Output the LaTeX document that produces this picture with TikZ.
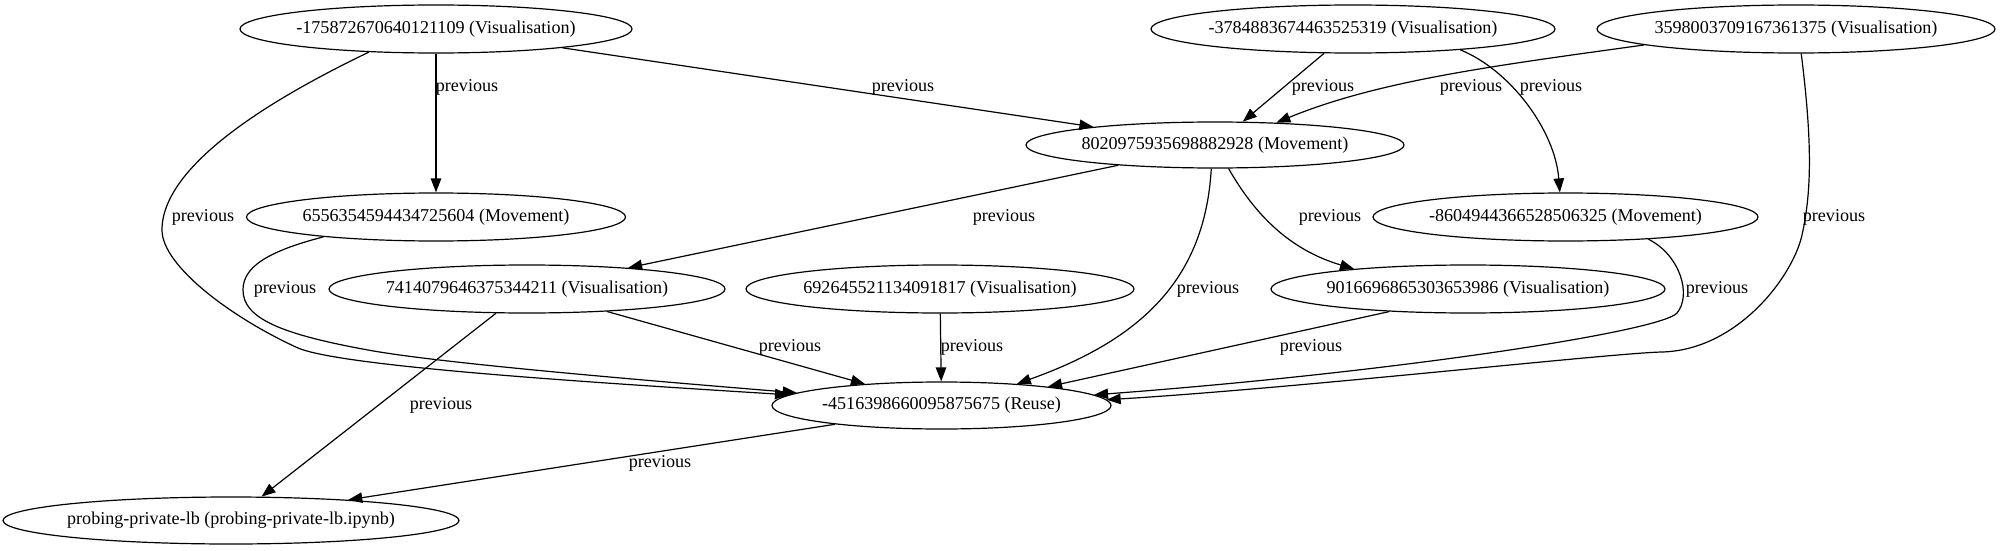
\documentclass[tikz,border=0pt]{standalone}
\usepackage{fontspec}
\setmainfont{Liberation Serif}
\usetikzlibrary{shapes.geometric, arrows.meta}
\begin{document}
\begin{tikzpicture}[x=1pt,y=-1pt,
  gnode/.style={draw, ellipse, line width=1.2pt, minimum height=48pt, inner sep=0pt, font=\fontsize{18.1}{20}\selectfont},
  lab/.style={font=\fontsize{18.1}{20}\selectfont, inner sep=0pt},
  edge/.style={line width=1.2pt, -{Triangle[length=14pt,width=10.5pt]}}
]
\useasboundingbox (0,0) rectangle (2000,551);
% nodes
\node[gnode, minimum width=392pt] (A) at (436,29) {\makebox[0pt]{-175872670640121109 (Visualisation)}};
\node[gnode, minimum width=404pt] (B) at (1353,29) {\makebox[0pt]{-3784883674463525319 (Visualisation)}};
\node[gnode, minimum width=398pt] (C) at (1796,29) {\makebox[0pt]{3598003709167361375 (Visualisation)}};
\node[gnode, minimum width=378pt, minimum height=46pt] (D) at (1215,145) {\makebox[0pt]{8020975935698882928 (Movement)}};
\node[gnode, minimum width=379pt] (E) at (436,217) {\makebox[0pt]{6556354594434725604 (Movement)}};
\node[gnode, minimum width=385pt] (F) at (1565.5,217) {\makebox[0pt]{-8604944366528506325 (Movement)}};
\node[gnode, minimum width=396pt] (G) at (527,289) {\makebox[0pt]{7414079646375344211 (Visualisation)}};
\node[gnode, minimum width=388pt] (H) at (940,289) {\makebox[0pt]{692645521134091817 (Visualisation)}};
\node[gnode, minimum width=394pt] (I) at (1468,289) {\makebox[0pt]{9016696865303653986 (Visualisation)}};
\node[gnode, minimum width=339pt, minimum height=47pt] (J) at (941.5,405.5) {\makebox[0pt]{-4516398660095875675 (Reuse)}};
\node[gnode, minimum width=456pt, minimum height=47pt] (K) at (231,520.5) {\makebox[0pt]{probing-private-lb (probing-private-lb.ipynb)}};
% edges
\draw[edge] (A) -- (E);
\draw[edge] (A) -- (D);
\draw[edge] (A.199) .. controls (290,90) and (162,160) .. (162,230) .. controls (162,266) and (232,318) .. (298,348) .. controls (343,367) and (600,383) .. (J.176);
\draw[edge] (B) -- (D);
\draw[edge] (C.186) .. controls (1500,65) and (1380,80) .. (D.20);
\draw[edge] (B.-11) .. controls (1510,70) and (1555,130) .. (F.103);
\draw[edge] (C.-78) .. controls (1812,140) and (1812,190) .. (1802,235) .. controls (1793,276) and (1738,350) .. (1662,352) .. controls (1612,353) and (1300,388) .. (J.2);
\draw[edge] (D) -- (G);
\draw[edge] (D.261) .. controls (1205,280) and (1140,340) .. (J.16);
\draw[edge] (D.300) .. controls (1255,215) and (1290,250) .. (I.170);
\draw[edge] (E.190) .. controls (265,252) and (243,268) .. (243,290) .. controls (243,318) and (280,334) .. (368,350) .. controls (438,363) and (640,380) .. (J.175);
\draw[edge] (F.-15) .. controls (1680,255) and (1692,295) .. (1677,313) .. controls (1662,331) and (1400,372) .. (J.4);
\draw[edge] (G) -- (J);
\draw[edge] (H) -- (J);
\draw[edge] (I.196) -- (J.10);
\draw[edge] (G) -- (K);
\draw[edge] (J.190) -- (K.10);
% labels
\node[lab] (l1) at (467,87) {previous};
\node[lab] (l2) at (903,87) {previous};
\node[lab] (l3) at (203,217) {previous};
\node[lab] (l4) at (1323,87) {previous};
\node[lab] (l5) at (1471,87) {previous};
\node[lab] (l6) at (1551,87) {previous};
\node[lab] (l7) at (1834,217) {previous};
\node[lab] (l8) at (1004,217) {previous};
\node[lab] (l9) at (1330,217) {previous};
\node[lab] (l10) at (1208,289) {previous};
\node[lab] (l11) at (285,289) {previous};
\node[lab] (l12) at (1717,289) {previous};
\node[lab] (l13) at (790,347) {previous};
\node[lab] (l14) at (972,347) {previous};
\node[lab] (l15) at (1311,347) {previous};
\node[lab] (l16) at (441,405) {previous};
\node[lab] (l17) at (660,463) {previous};
\end{tikzpicture}
\end{document}
